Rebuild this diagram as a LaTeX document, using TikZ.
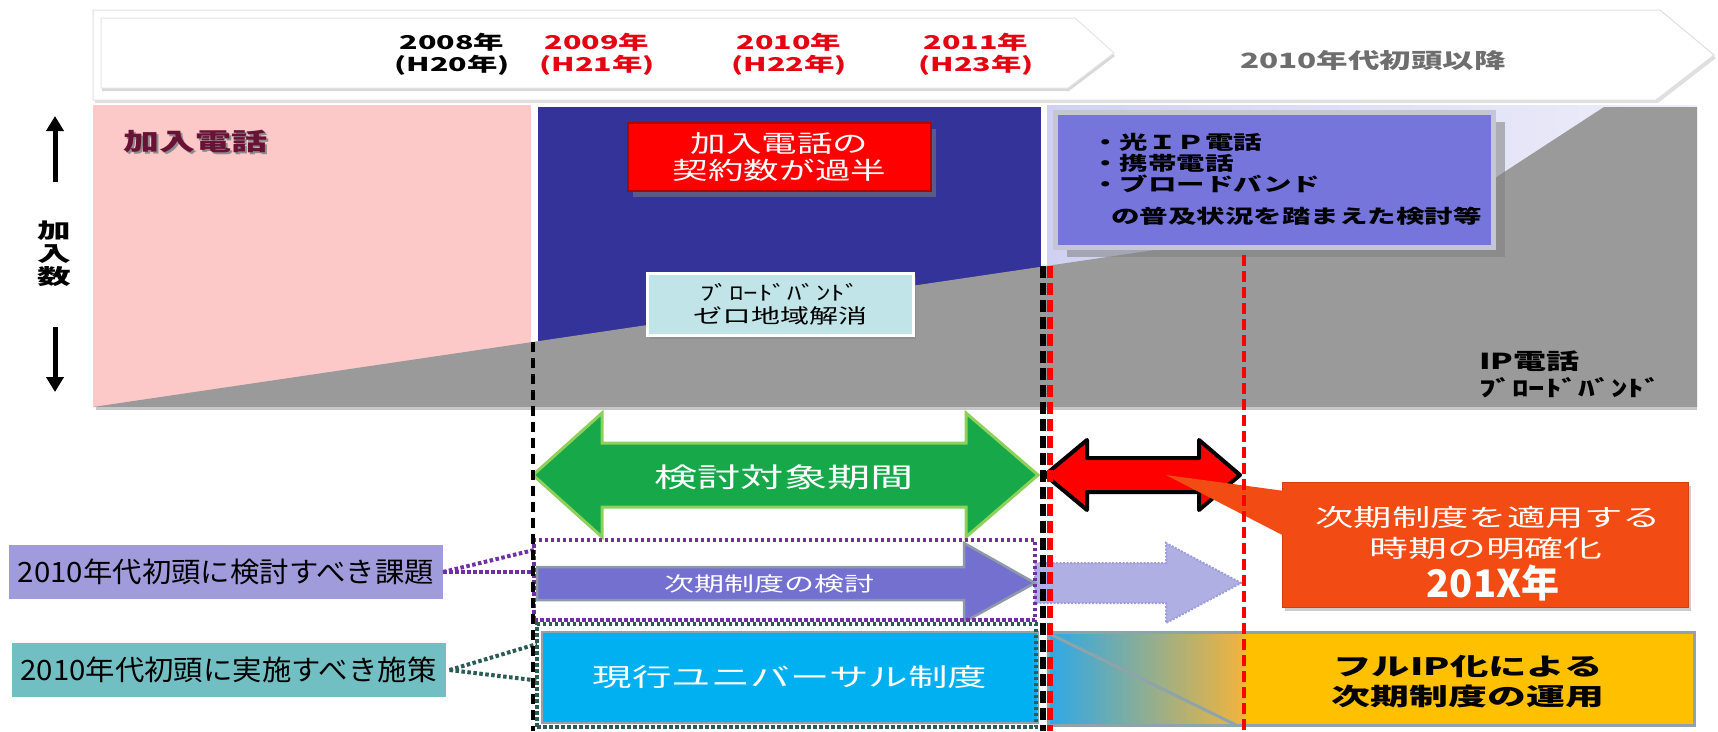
\documentclass[tikz,border=0pt]{standalone}
\usepackage{fontspec}
\setmainfont{Noto Sans CJK JP}
\usetikzlibrary{shadows,arrows.meta}
\newcommand\wx[2]{\scalebox{#1}[1]{#2}}
\newcommand\fsz[2]{\fontsize{#1pt}{#2pt}\selectfont}
\definecolor{pinkbg}{HTML}{FCC8C8}
\definecolor{navy}{HTML}{333399}
\definecolor{chartgray}{HTML}{9A9A9A}
\definecolor{lavA}{HTML}{D0D0F2}
\definecolor{lavB}{HTML}{EEEEFA}
\definecolor{yrred}{HTML}{E60012}
\definecolor{gray6}{HTML}{6E6E6E}
\definecolor{maroon}{HTML}{6A1236}
\definecolor{boxviolet}{HTML}{7575DC}
\definecolor{boxrim}{HTML}{C4C6D2}
\definecolor{cyanbox}{HTML}{C0E4E8}
\definecolor{grn}{HTML}{17A84A}
\definecolor{grnedge}{HTML}{8ED05A}
\definecolor{callout}{HTML}{F24B14}
\definecolor{parrow}{HTML}{7470D0}
\definecolor{parrowedge}{HTML}{8E9AA8}
\definecolor{faded}{HTML}{AFAFE4}
\definecolor{fadededge}{HTML}{9E9EDA}
\definecolor{bluebox}{HTML}{00B0F0}
\definecolor{gradblue}{HTML}{2DA8E8}
\definecolor{gradorange}{HTML}{F2B43C}
\definecolor{yellowbox}{HTML}{FFC000}
\definecolor{rimgray}{HTML}{8FA3AB}
\definecolor{labA}{HTML}{A09CDC}
\definecolor{labB}{HTML}{72BFC3}
\definecolor{dotpurple}{HTML}{7030A0}
\definecolor{dotteal}{HTML}{2B5B57}
\tikzset{
  yr/.style={align=center,font=\fsz{19}{22}\bfseries},
  axisarrow/.style={line width=5pt,-{Triangle[width=17pt,length=15pt]}},
  dotline/.style={line width=4pt,dash pattern=on 3.5pt off 2.5pt},
  labelbox/.style={minimum width=434pt,minimum height=54pt,font=\fsz{28}{28}},
}
\begin{document}
\begin{tikzpicture}[x=1pt,y=-1pt,every node/.style={inner sep=0pt,outer sep=0pt}]
\useasboundingbox[fill=white] (0,0) rectangle (1718,731);

% ---------- top banner ----------
\filldraw[fill=white,draw=black!12,line width=1pt,
  drop shadow={shadow xshift=2pt,shadow yshift=-3pt,opacity=0.25}]
  (93,10) -- (1660,10) -- (1714,55) -- (1656,100) -- (93,100) -- cycle;
\filldraw[fill=white,draw=black!10,line width=1pt,
  drop shadow={shadow xshift=1pt,shadow yshift=-3pt,opacity=0.3}]
  (101,18) -- (1075,18) -- (1114,53) -- (1068,88) -- (101,88) -- cycle;

\node[yr] (y08) at (452,54) {\wx{1.6}{2008年}\\\wx{1.6}{(H20年)}};
\node[yr,text=yrred] (y09) at (597,54) {\wx{1.6}{2009年}\\\wx{1.6}{(H21年)}};
\node[yr,text=yrred] (y10) at (789,54) {\wx{1.6}{2010年}\\\wx{1.6}{(H22年)}};
\node[yr,text=yrred] (y11) at (976,54) {\wx{1.6}{2011年}\\\wx{1.6}{(H23年)}};
\node[font=\fsz{21}{21}\bfseries,text=gray6] (later) at (1373,60) {\wx{1.5}{2010年代初頭以降}};

% ---------- chart ----------
\fill[pinkbg] (93,105) rectangle (531,407);
\fill[navy] (538,107) rectangle (1041,407);
\shade[left color=lavA,right color=lavB] (1047,105) rectangle (1697,407);
\fill[chartgray] (93,407) -- (1452,206) -- (1604,107) -- (1697,107) -- (1697,407) -- cycle;
\fill[black!22] (96,407) rectangle (1697,410);

% axis
\coordinate (upA) at (55,182);
\coordinate (upB) at (55,116);
\coordinate (dnA) at (55,327);
\coordinate (dnB) at (55,392);
\draw[axisarrow] (upA) -- (upB);
\draw[axisarrow] (dnA) -- (dnB);
\node[align=center,font=\fsz{21}{23}\bfseries] (kanyusu) at (54,254) {\wx{1.6}{加}\\\wx{1.6}{入}\\\wx{1.6}{数}};

\node[font=\fsz{24}{24}\bfseries,text=black!45] (kdsh) at (197,143) {\wx{1.5}{加入電話}};
\node[font=\fsz{24}{24}\bfseries,text=maroon] (kd) at (195,141) {\wx{1.5}{加入電話}};

% red box
\node[fill=red,draw=red!70!black,line width=2pt,minimum width=303pt,minimum height=68pt,
  drop shadow={shadow xshift=5pt,shadow yshift=-6pt,opacity=0.5},
  text=white,align=center,font=\fsz{24}{27}] (kahan) at (779.5,157)
  {\wx{1.48}{加入電話の}\\\wx{1.48}{契約数が過半}};

% broadband zero box
\node[fill=cyanbox,draw=white,line width=3pt,minimum width=266pt,minimum height=62pt,
  drop shadow={shadow xshift=3pt,shadow yshift=-4pt,opacity=0.4},
  align=center,font=\fsz{20}{23}] (bbzero) at (780,304)
  {\wx{1.45}{ﾌﾞﾛｰﾄﾞﾊﾞﾝﾄﾞ}\\\wx{1.45}{ゼロ地域解消}};

% violet box
\node[fill=boxviolet,draw=boxrim,line width=5pt,minimum width=438pt,minimum height=135pt,
  drop shadow={shadow xshift=12pt,shadow yshift=-10pt,opacity=0.55}] (fukyu) at (1274,179.5) {};
\node[anchor=north west,align=left,font=\fsz{19}{21}\bfseries] (fukyutxt) at (1091,133)
  {\wx{1.5}{・光ＩＰ電話}\\\wx{1.5}{・携帯電話}\\\wx{1.5}{・ブロードバンド}\\[11pt]\hspace*{20pt}\wx{1.5}{の普及状況を踏まえた検討等}};

\node[anchor=west,align=left,font=\fsz{22}{27}\bfseries] (ipbb) at (1479,374)
  {\wx{1.5}{IP電話}\\\wx{1.5}{ﾌﾞﾛｰﾄﾞﾊﾞﾝﾄﾞ}};

% ---------- lower part ----------
% green double arrow
\filldraw[fill=grn,draw=grnedge,line width=3pt]
  (533,475) -- (602,413) -- (602,443) -- (966,443) -- (966,413) -- (1038,475)
  -- (966,537) -- (966,507) -- (602,507) -- (602,537) -- cycle;
\node[text=white,font=\fsz{27}{27}] (kento) at (784,477) {\wx{1.6}{検討対象期間}};

% red double arrow
\filldraw[fill=red,draw=black,line width=4pt,line join=round]
  (1045,475) -- (1087,440) -- (1087,458) -- (1199,458) -- (1199,440) -- (1240,475)
  -- (1199,510) -- (1199,492) -- (1087,492) -- (1087,510) -- cycle;

% callout
\node[fill=callout,draw=callout!85!black,line width=1pt,minimum width=406pt,minimum height=125pt,
  drop shadow={shadow xshift=3pt,shadow yshift=-4pt,opacity=0.4}] (cbox) at (1485,544.5) {};
\fill[callout] (1292,492) -- (1166,475) -- (1292,540) -- cycle;
\node[text=white,font=\fsz{24}{24}] (c1) at (1488,517) {\wx{1.6}{次期制度を適用する}};
\node[text=white,font=\fsz{24}{24}] (c2) at (1486,548) {\wx{1.62}{時期の明確化}};
\node[text=white,font=\fsz{38}{38}\bfseries] (c3) at (1493,583) {201X年};

% faded arrow
\filldraw[fill=faded,draw=fadededge,line width=2pt,dash pattern=on 2pt off 1.5pt]
  (1035,563) -- (1166,563) -- (1166,543) -- (1241,583) -- (1166,623) -- (1166,603) -- (1035,603) -- cycle;
% purple arrow
\filldraw[fill=parrow,draw=parrowedge,line width=2.5pt]
  (537,567) -- (964,567) -- (964,543) -- (1035,583) -- (964,622) -- (964,600) -- (537,600) -- cycle;
\node[text=white,font=\fsz{20}{20}] (jiki) at (769,584) {\wx{1.5}{次期制度の検討}};

% blue box
\node[fill=bluebox,draw=rimgray,line width=1.5pt,minimum width=496pt,minimum height=91pt,
  text=white,font=\fsz{25}{25}] (genko) at (790,677.5) {\wx{1.58}{現行ユニバーサル制度}};

% lower right box
\shade[left color=gradblue,right color=gradorange] (1048,632) rectangle (1245,725);
\fill[yellowbox] (1245,632) rectangle (1694,725);
\draw[rimgray,line width=3pt] (1050,634) -- (1236,725);
\node[draw=rimgray,line width=3pt,minimum width=646pt,minimum height=93pt] (unyo) at (1371,678.5) {};
\node[align=center,font=\fsz{24}{30}\bfseries] (unyotxt) at (1468,682)
  {\wx{1.6}{フルIP化による}\\\wx{1.62}{次期制度の運用}};

% dotted frames
\node[draw=dotpurple,dotline,minimum width=501pt,minimum height=80pt] (kadai) at (784.5,580) {};
\node[draw=dotteal,dotline,minimum width=499pt,minimum height=103pt] (shisaku) at (786.5,675.5) {};

% left labels
\node[labelbox,fill=labA] (lab1) at (226,572) {\wx{1.05}{2010年代初頭に検討すべき課題}};
\node[labelbox,fill=labB] (lab2) at (228.5,670) {\wx{1.05}{2010年代初頭に実施すべき施策}};

\draw[dotline,dotpurple] (lab1.east) -- ([yshift=-10pt]kadai.north west);
\draw[dotline,dotpurple] (lab1.east) -- ([yshift=8pt]kadai.west);
\draw[dotline,dotteal] ([xshift=4pt]lab2.east) -- ([yshift=-20pt]shisaku.north west);
\draw[dotline,dotteal] ([xshift=4pt]lab2.east) -- ([yshift=-5pt]shisaku.west);

% vertical dashed lines
\coordinate (vA1) at (533,342);   \coordinate (vA2) at (533,731);
\coordinate (vB1) at (1043,266);  \coordinate (vB2) at (1043,731);
\coordinate (vC1) at (1050,266);  \coordinate (vC2) at (1050,731);
\coordinate (vD1) at (1244,255);  \coordinate (vD2) at (1244,731);
\draw[black,line width=4pt,dash pattern=on 10pt off 6pt] (vA1) -- (vA2);
\draw[black,line width=6pt,dash pattern=on 12pt off 5pt] (vB1) -- (vB2);
\draw[red,line width=6pt,dash pattern=on 12pt off 5pt] (vC1) -- (vC2);
\draw[red,line width=3.5pt,dash pattern=on 11pt off 5pt] (vD1) -- (vD2);
\end{tikzpicture}
\end{document}
